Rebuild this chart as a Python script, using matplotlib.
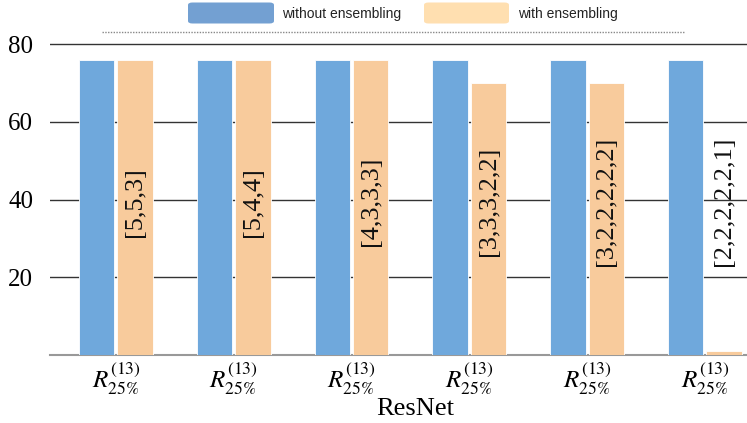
import matplotlib
matplotlib.use("Agg")
import matplotlib.pyplot as plt
from matplotlib.patches import FancyBboxPatch
from matplotlib.lines import Line2D
import numpy as np

plt.rcParams["font.family"] = ["Liberation Serif", "DejaVu Serif"]
plt.rcParams["mathtext.fontset"] = "stix"

# Data
categories = [r"$R^{(13)}_{25\%}$"] * 6
without_ensembling = [76, 76, 76, 76, 76, 76]
with_ensembling = [76, 76, 76, 70, 70, 1]
configs = ["[5,5,3]", "[5,4,4]", "[4,3,3,3]", "[3,3,3,2,2]",
           "[3,2,2,2,2,2]", "[2,2,2,2,2,1]"]
series_names = ["without ensembling", "with ensembling"]
yticks = [20, 40, 60, 80]

W, H = 747, 423
fig = plt.figure(figsize=(W / 100, H / 100), dpi=100)

# axes box in pixels
left, right, bottom_px, top_px = 50, 747, 355, 36.5
ax = fig.add_axes([left / W, 1 - bottom_px / H, (right - left) / W, (bottom_px - top_px) / H])

blue = "#6fa8dc"
orange = "#f8cb9c"
x = np.arange(len(categories))
bw = 0.3
off = 0.163

ax.bar(x - off, without_ensembling, width=bw, color=blue, edgecolor="white",
       linewidth=0.6, zorder=3)
ax.bar(x + off, with_ensembling, width=bw, color=orange, edgecolor="white",
       linewidth=0.6, zorder=3)

for xi, lab in zip(x, configs):
    ax.text(xi + off, 39.5, lab, rotation=90, ha="center", va="center",
            fontsize=19, color="#111111", zorder=4)

ax.set_xlim(-0.56, 5.357)
ax.set_ylim(0, 82)
ax.set_yticks(yticks)
ax.set_yticklabels([str(v) for v in yticks], fontsize=18)
ax.set_xticks(x)
ax.set_xticklabels(categories, fontsize=18)
ax.tick_params(axis="both", length=0)
ax.tick_params(axis="y", pad=12)
ax.tick_params(axis="x", pad=4)
ax.yaxis.grid(True, color="#333333", linewidth=1.0, zorder=0)
ax.set_axisbelow(True)
for s in ["top", "right", "left"]:
    ax.spines[s].set_visible(False)
ax.spines["bottom"].set_color("#999999")
ax.spines["bottom"].set_linewidth(1.5)

ax.set_xlabel("ResNet", fontsize=19, labelpad=2)
ax.xaxis.set_label_coords((415 - left) / (right - left), -0.135)

# legend at the top
def fx(px):
    return px / W

def fy(py):
    return 1 - py / H

leg_colors = ["#73a0d2", "#ffdfb0"]
patches_px = [(188, 274), (424, 509)]
text_x = [282, 518]
for (x0, x1), c, tx, name in zip(patches_px, leg_colors, text_x, series_names):
    p = FancyBboxPatch((fx(x0), fy(23.5)), fx(x1 - x0), (21) / H,
                       boxstyle="round,pad=0,rounding_size=0.006",
                       transform=fig.transFigure, facecolor=c, edgecolor="none")
    fig.add_artist(p)
    fig.text(fx(tx), fy(14), name, fontsize=10, family="Liberation Sans",
             color="#222222", ha="left", va="center")

fig.add_artist(Line2D([fx(102), fx(685)], [fy(32), fy(32)], transform=fig.transFigure,
                      color="#888888", linewidth=1, linestyle=(0, (1, 1))))

fig.savefig("out.png", dpi=100)
